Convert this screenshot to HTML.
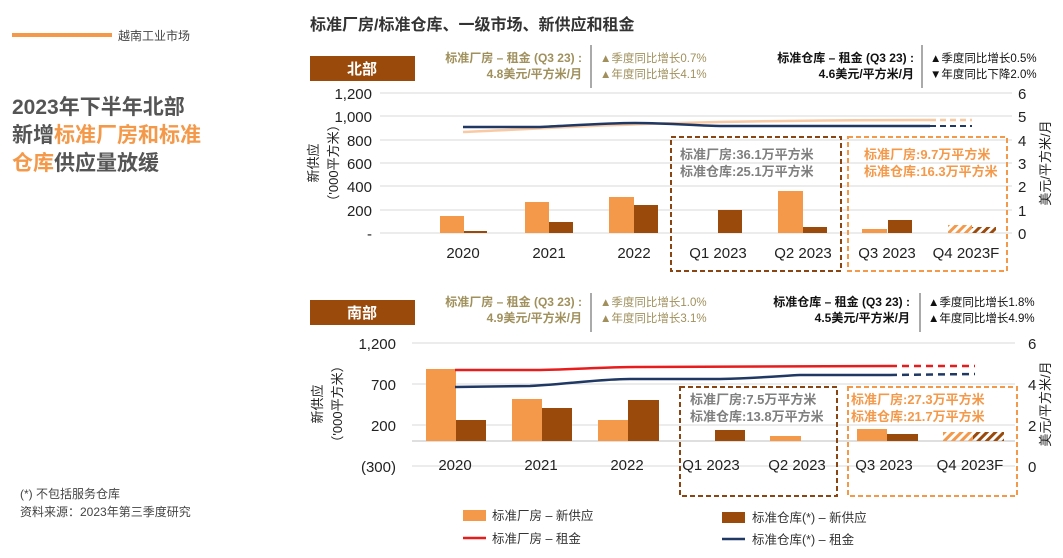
<!DOCTYPE html>
<html><head><meta charset="utf-8"><style>
body{margin:0;width:1063px;height:553px;background:#fff;overflow:hidden;font-family:"Liberation Sans","Noto Sans CJK SC",sans-serif}
</style></head><body>
<svg width="1063" height="553" viewBox="0 0 1063 553" xmlns="http://www.w3.org/2000/svg" font-family="Liberation Sans, Noto Sans CJK SC, sans-serif">
<defs>
<pattern id="ho" width="6" height="6" patternUnits="userSpaceOnUse" patternTransform="rotate(45)"><rect width="3" height="6" fill="#F4994A"/></pattern>
<pattern id="hb" width="6" height="6" patternUnits="userSpaceOnUse" patternTransform="rotate(45)"><rect width="3" height="6" fill="#9A4A0B"/></pattern>
</defs>
<line x1="12" y1="35" x2="112" y2="35" stroke="#F4994A" stroke-width="4"/>
<text x="118" y="40" font-size="12" fill="#444">越南工业市场</text>
<g font-size="21" font-weight="bold" fill="#555">
<text x="12" y="114">2023年下半年北部</text>
<text x="12" y="142">新增<tspan fill="#F4994A">标准厂房和标准</tspan></text>
<text x="12" y="170"><tspan fill="#F4994A">仓库</tspan>供应量放缓</text>
</g>
<text x="20" y="498" font-size="12" fill="#444">(*) 不包括服务仓库</text>
<text x="20" y="516" font-size="12" fill="#444">资料来源：2023年第三季度研究</text>
<text x="310" y="30" font-size="16" font-weight="bold" fill="#333">标准厂房/标准仓库、一级市场、新供应和租金</text>

<rect x="310" y="56" width="105" height="25" fill="#9A4A0B"/>
<text x="362" y="74" font-size="15" font-weight="bold" fill="#fff" text-anchor="middle">北部</text>
<g font-size="12" font-weight="bold">
<text x="582" y="62" text-anchor="end" fill="#A0905C">标准厂房 – 租金 (Q3 23) :</text>
<text x="582" y="78" text-anchor="end" fill="#A0905C">4.8美元/平方米/月</text>
<text x="914" y="62" text-anchor="end" fill="#111">标准仓库 – 租金 (Q3 23) :</text>
<text x="914" y="78" text-anchor="end" fill="#111">4.6美元/平方米/月</text>
</g>
<g font-size="11.5">
<text x="600" y="62" fill="#A0905C">▲季度同比增长0.7%</text>
<text x="600" y="78" fill="#A0905C">▲年度同比增长4.1%</text>
<text x="930" y="62" fill="#111">▲季度同比增长0.5%</text>
<text x="930" y="78" fill="#111">▼年度同比下降2.0%</text>
</g>
<line x1="591" y1="45" x2="591" y2="88" stroke="#555"/>
<line x1="922" y1="45" x2="922" y2="88" stroke="#555"/>
<g stroke="#d9d9d9">
<line x1="380" y1="93" x2="1012" y2="93"/><line x1="380" y1="116" x2="1012" y2="116"/>
<line x1="380" y1="140" x2="1012" y2="140"/><line x1="380" y1="163" x2="1012" y2="163"/>
<line x1="380" y1="186" x2="1012" y2="186"/><line x1="380" y1="210" x2="1012" y2="210"/>
<line x1="380" y1="233" x2="1012" y2="233"/>
</g>
<g font-size="15" fill="#222" text-anchor="end">
<text x="372" y="99">1,200</text><text x="372" y="122">1,000</text><text x="372" y="146">800</text>
<text x="372" y="169">600</text><text x="372" y="192">400</text><text x="372" y="216">200</text><text x="372" y="239">-</text>
</g>
<g font-size="15" fill="#222">
<text x="1018" y="99">6</text><text x="1018" y="122">5</text><text x="1018" y="146">4</text>
<text x="1018" y="169">3</text><text x="1018" y="192">2</text><text x="1018" y="216">1</text><text x="1018" y="239">0</text>
</g>
<text transform="translate(318,163) rotate(-90)" font-size="13" fill="#222" text-anchor="middle">新供应</text>
<text transform="translate(338,163) rotate(-90)" font-size="13" fill="#222" text-anchor="middle">（'000平方米）</text>
<text transform="translate(1050,163) rotate(-90)" font-size="13" fill="#222" text-anchor="middle">美元/平方米/月</text>
<g fill="#F4994A">
<rect x="440" y="216" width="24" height="17"/><rect x="525" y="202" width="24" height="31"/>
<rect x="609" y="197" width="25" height="36"/><rect x="778" y="191" width="25" height="42"/>
<rect x="862" y="229" width="25" height="4"/>
</g>
<g fill="#9A4A0B">
<rect x="464" y="231" width="23" height="2"/><rect x="549" y="222" width="24" height="11"/>
<rect x="634" y="205" width="24" height="28"/><rect x="718" y="210" width="24" height="23"/>
<rect x="803" y="227" width="24" height="6"/><rect x="888" y="220" width="24" height="13"/>
</g>
<rect x="948" y="225" width="24" height="8" fill="url(#ho)"/>
<rect x="972" y="227" width="24" height="6" fill="url(#hb)"/>
<path d="M463 132 C 550 128, 620 124, 720 122 S 880 120, 930 120" stroke="#F8C9A2" stroke-width="2.5" fill="none"/>
<path d="M930 120 L 972 120" stroke="#F8C9A2" stroke-width="2.5" stroke-dasharray="6 4" fill="none"/>
<path d="M463 127 L 540 127 C 580 125, 610 123, 635 123 C 670 123, 700 126, 720 126 L 930 126" stroke="#1F3864" stroke-width="2.5" fill="none"/>
<path d="M930 126 L 972 126" stroke="#1F3864" stroke-width="2" stroke-dasharray="6 4" fill="none"/>
<g font-size="15" fill="#222" text-anchor="middle">
<text x="463" y="258">2020</text><text x="549" y="258">2021</text><text x="634" y="258">2022</text>
<text x="718" y="258">Q1 2023</text><text x="803" y="258">Q2 2023</text><text x="887" y="258">Q3 2023</text><text x="966" y="258">Q4 2023F</text>
</g>
<rect x="671" y="137" width="170" height="134" fill="none" stroke="#8B4513" stroke-width="2" stroke-dasharray="5 3"/>
<rect x="848" y="137" width="159" height="134" fill="none" stroke="#F4994A" stroke-width="2" stroke-dasharray="5 3"/>
<g font-size="13" font-weight="bold">
<text x="680" y="159" fill="#7f7f7f">标准厂房:36.1万平方米</text>
<text x="680" y="176" fill="#7f7f7f">标准仓库:25.1万平方米</text>
<text x="864" y="159" fill="#F4994A">标准厂房:9.7万平方米</text>
<text x="864" y="176" fill="#F4994A">标准仓库:16.3万平方米</text>
</g>

<rect x="310" y="300" width="105" height="25" fill="#9A4A0B"/>
<text x="362" y="318" font-size="15" font-weight="bold" fill="#fff" text-anchor="middle">南部</text>
<g font-size="12" font-weight="bold">
<text x="582" y="306" text-anchor="end" fill="#A0905C">标准厂房 – 租金 (Q3 23) :</text>
<text x="582" y="322" text-anchor="end" fill="#A0905C">4.9美元/平方米/月</text>
<text x="910" y="306" text-anchor="end" fill="#111">标准仓库 – 租金 (Q3 23) :</text>
<text x="910" y="322" text-anchor="end" fill="#111">4.5美元/平方米/月</text>
</g>
<g font-size="11.5">
<text x="600" y="306" fill="#A0905C">▲季度同比增长1.0%</text>
<text x="600" y="322" fill="#A0905C">▲年度同比增长3.1%</text>
<text x="928" y="306" fill="#111">▲季度同比增长1.8%</text>
<text x="928" y="322" fill="#111">▲年度同比增长4.9%</text>
</g>
<line x1="591" y1="293" x2="591" y2="332" stroke="#555"/>
<line x1="920" y1="293" x2="920" y2="332" stroke="#555"/>
<g stroke="#d9d9d9">
<line x1="412" y1="343" x2="1015" y2="343"/><line x1="412" y1="384" x2="1015" y2="384"/>
<line x1="412" y1="425" x2="1015" y2="425"/><line x1="412" y1="466" x2="1015" y2="466"/>
</g>
<line x1="412" y1="441" x2="1015" y2="441" stroke="#bfbfbf"/>
<g font-size="15" fill="#222" text-anchor="end">
<text x="396" y="349">1,200</text><text x="396" y="390">700</text><text x="396" y="431">200</text><text x="396" y="472">(300)</text>
</g>
<g font-size="15" fill="#222">
<text x="1028" y="349">6</text><text x="1028" y="390">4</text><text x="1028" y="431">2</text><text x="1028" y="472">0</text>
</g>
<text transform="translate(322,404) rotate(-90)" font-size="13" fill="#222" text-anchor="middle">新供应</text>
<text transform="translate(342,404) rotate(-90)" font-size="13" fill="#222" text-anchor="middle">（'000平方米）</text>
<text transform="translate(1050,404) rotate(-90)" font-size="13" fill="#222" text-anchor="middle">美元/平方米/月</text>
<g fill="#F4994A">
<rect x="426" y="369" width="30" height="72"/><rect x="512" y="399" width="30" height="42"/>
<rect x="598" y="420" width="30" height="21"/><rect x="770" y="436" width="31" height="5"/>
<rect x="857" y="429" width="30" height="12"/>
</g>
<g fill="#9A4A0B">
<rect x="456" y="420" width="30" height="21"/><rect x="542" y="408" width="30" height="33"/>
<rect x="628" y="400" width="31" height="41"/><rect x="715" y="430" width="30" height="11"/>
<rect x="887" y="434" width="31" height="7"/>
</g>
<rect x="943" y="432" width="30" height="9" fill="url(#ho)"/>
<rect x="973" y="432" width="31" height="9" fill="url(#hb)"/>
<path d="M455 370 L 540 370 C 580 369, 610 367, 640 367 L 890 366" stroke="#E81C1C" stroke-width="2.5" fill="none"/>
<path d="M890 366 L 975 366" stroke="#E81C1C" stroke-width="2.5" stroke-dasharray="7 5" fill="none"/>
<path d="M455 387 L 530 386 C 570 384, 600 379, 630 379 L 720 379 C 760 378, 780 376, 800 375 L 890 375" stroke="#1F3864" stroke-width="2.5" fill="none"/>
<path d="M890 375 L 975 374" stroke="#1F3864" stroke-width="2.5" stroke-dasharray="7 5" fill="none"/>
<g font-size="15" fill="#222" text-anchor="middle">
<text x="455" y="470">2020</text><text x="541" y="470">2021</text><text x="627" y="470">2022</text>
<text x="711" y="470">Q1 2023</text><text x="797" y="470">Q2 2023</text><text x="884" y="470">Q3 2023</text><text x="970" y="470">Q4 2023F</text>
</g>
<rect x="680" y="387" width="157" height="109" fill="none" stroke="#8B4513" stroke-width="2" stroke-dasharray="5 3"/>
<rect x="848" y="387" width="169" height="109" fill="none" stroke="#F4994A" stroke-width="2" stroke-dasharray="5 3"/>
<g font-size="13" font-weight="bold">
<text x="690" y="404" fill="#7f7f7f">标准厂房:7.5万平方米</text>
<text x="690" y="421" fill="#7f7f7f">标准仓库:13.8万平方米</text>
<text x="851" y="404" fill="#F4994A">标准厂房:27.3万平方米</text>
<text x="851" y="421" fill="#F4994A">标准仓库:21.7万平方米</text>
</g>

<rect x="463" y="510" width="23" height="11" fill="#F4994A"/>
<text x="492" y="520" font-size="12.5" fill="#333">标准厂房 – 新供应</text>
<rect x="722" y="512" width="23" height="11" fill="#9A4A0B"/>
<text x="752" y="522" font-size="12.5" fill="#333">标准仓库(*) – 新供应</text>
<line x1="463" y1="538" x2="486" y2="538" stroke="#E81C1C" stroke-width="2.5"/>
<text x="492" y="543" font-size="12.5" fill="#333">标准厂房 – 租金</text>
<line x1="722" y1="539" x2="745" y2="539" stroke="#1F3864" stroke-width="2.5"/>
<text x="752" y="544" font-size="12.5" fill="#333">标准仓库(*) – 租金</text>
</svg>
</body></html>
